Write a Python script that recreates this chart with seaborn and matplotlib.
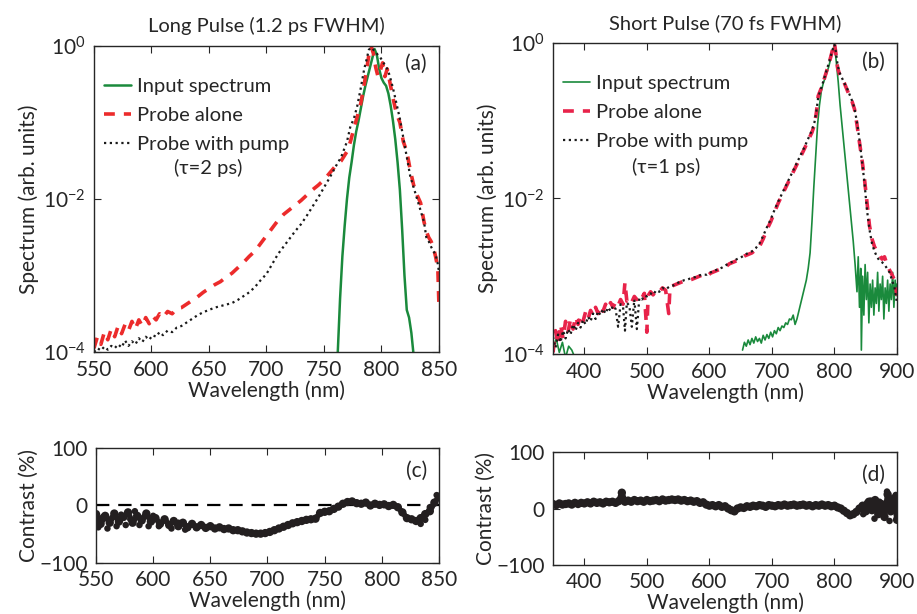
import numpy as np
import pandas as pd
import matplotlib
matplotlib.use("Agg")
import matplotlib.pyplot as plt
import seaborn as sns
from matplotlib.ticker import NullLocator

# ---------------- data ----------------
# Panel (a): long pulse, log10 of spectrum
wl_probe_a = [550, 553, 556, 559, 562, 565, 568, 571, 574, 577, 580, 583, 586, 589, 592, 595, 598, 601,
              604, 607, 610, 614, 618, 622, 626, 630, 635, 640, 645, 650, 655, 660, 665, 670, 675, 680,
              685, 690, 695, 700, 705, 710, 715, 720, 725, 730, 735, 740, 745, 750, 755, 760, 765, 770,
              773, 776, 779, 782, 785, 787, 789, 791, 793, 795, 797, 799, 801, 803, 805, 807, 810, 813,
              816, 819, 822, 825, 828, 831, 834, 837, 839, 841, 843, 845, 847, 849, 850]
log_probe_a = [-3.95, -3.80, -3.90, -3.74, -3.84, -3.70, -3.80, -3.66, -3.76, -3.64, -3.72, -3.60, -3.70,
               -3.58, -3.66, -3.55, -3.63, -3.53, -3.58, -3.50, -3.55, -3.47, -3.50, -3.43, -3.42, -3.38,
               -3.33, -3.28, -3.22, -3.17, -3.12, -3.08, -3.02, -2.97, -2.90, -2.83, -2.75, -2.68, -2.58,
               -2.48, -2.38, -2.28, -2.20, -2.14, -2.08, -2.02, -1.95, -1.88, -1.82, -1.75, -1.66, -1.57,
               -1.50, -1.38, -1.25, -1.08, -0.92, -0.75, -0.50, -0.32, -0.12, 0.0, -0.10, -0.28, -0.40,
               -0.32, -0.22, -0.40, -0.30, -0.45, -0.68, -0.88, -1.00, -1.25, -1.38, -1.62, -1.82, -1.95,
               -2.05, -2.30, -2.42, -2.50, -2.55, -2.62, -2.75, -2.90, -3.40]
log_pump_a = [-4.00, -3.95, -3.98, -3.93, -3.97, -3.92, -3.95, -3.90, -3.94, -3.85, -3.92, -3.86, -3.90,
              -3.82, -3.87, -3.80, -3.84, -3.78, -3.80, -3.74, -3.78, -3.72, -3.74, -3.68, -3.66, -3.62,
              -3.57, -3.52, -3.48, -3.45, -3.42, -3.40, -3.38, -3.36, -3.32, -3.27, -3.22, -3.15, -3.06,
              -2.98, -2.85, -2.72, -2.62, -2.52, -2.42, -2.33, -2.22, -2.10, -1.98, -1.85, -1.72, -1.58,
              -1.45, -1.25, -1.05, -0.95, -0.78, -0.55, -0.30, -0.18, -0.05, -0.02, -0.05, -0.08, -0.12,
              -0.15, -0.20, -0.25, -0.30, -0.38, -0.55, -0.75, -0.95, -1.20, -1.45, -1.70, -1.85, -2.00,
              -2.15, -2.30, -2.50, -2.55, -2.62, -2.68, -2.72, -2.85, -2.95]
wl_input_a = [762, 764, 766, 768, 770, 772, 774, 776, 778, 780, 782, 784, 786, 788, 790, 792, 794, 796,
              798, 800, 802, 804, 806, 808, 810, 812, 814, 816, 818, 820, 822, 824, 826, 828]
log_input_a = [-4.0, -3.3, -2.75, -2.35, -2.0, -1.72, -1.52, -1.30, -1.12, -0.98, -0.82, -0.66, -0.52,
               -0.40, -0.28, -0.16, -0.04, -0.12, -0.30, -0.42, -0.48, -0.52, -0.62, -0.78, -0.98, -1.22,
               -1.52, -1.88, -2.40, -3.00, -3.45, -3.55, -3.75, -4.05]

# Panel (b): short pulse, log10 of spectrum
wl_probe_b = [350, 354, 358, 362, 366, 370, 374, 378, 382, 386, 390, 394, 398, 402, 406, 410, 414, 418,
              422, 426, 430, 434, 438, 442, 446, 450, 454, 458, 462, 465, 468, 472, 476, 480, 484, 488,
              492, 496, 500, 502, 506, 510, 515, 520, 525, 530, 535, 537, 542, 548, 554, 560, 566, 572,
              578, 584, 590, 596, 602, 608, 614, 620, 626, 632, 638, 644, 650, 656, 662, 668, 674, 680,
              686, 692, 698, 704, 710, 716, 722, 728, 734, 740, 746, 752, 758, 764, 768, 771, 774, 777,
              780, 783, 786, 789, 792, 795, 798, 800, 802, 805, 808, 812, 816, 820, 824, 828, 832, 836,
              840, 844, 848, 852, 856, 860, 864, 868, 872, 876, 880, 884, 888, 892, 896, 900]
log_probe_b = [-3.98, -3.70, -3.88, -3.62, -3.80, -3.58, -3.72, -3.55, -3.68, -3.52, -3.62, -3.50, -3.58,
               -3.46, -3.55, -3.44, -3.50, -3.40, -3.48, -3.38, -3.45, -3.36, -3.42, -3.34, -3.40, -3.33,
               -3.38, -3.30, -3.36, -3.08, -3.32, -3.28, -3.33, -3.26, -3.30, -3.24, -3.28, -3.22, -3.72,
               -3.25, -3.20, -3.24, -3.18, -3.20, -3.15, -3.18, -3.48, -3.14, -3.12, -3.10, -3.08, -3.06,
               -3.05, -3.04, -3.02, -3.00, -2.98, -3.00, -2.96, -2.94, -2.92, -2.90, -2.88, -2.84, -2.82,
               -2.80, -2.77, -2.74, -2.72, -2.70, -2.66, -2.62, -2.52, -2.40, -2.30, -2.18, -2.06, -1.96,
               -1.86, -1.76, -1.66, -1.56, -1.46, -1.36, -1.25, -1.15, -1.05, -0.90, -0.68, -0.62, -0.56,
               -0.48, -0.40, -0.32, -0.24, -0.15, -0.05, 0.0, -0.12, -0.32, -0.40, -0.46, -0.52, -0.60,
               -0.68, -0.75, -0.85, -1.05, -1.28, -1.50, -1.75, -2.05, -2.35, -2.52, -2.62, -2.68, -2.72,
               -2.78, -2.75, -2.85, -2.92, -2.98, -3.05, -3.25]
log_pump_b = [-3.78, -3.92, -3.75, -3.85, -3.70, -3.80, -3.68, -3.75, -3.62, -3.70, -3.60, -3.66, -3.56,
              -3.62, -3.52, -3.58, -3.48, -3.55, -3.45, -3.50, -3.42, -3.48, -3.40, -3.45, -3.38, -3.42,
              -3.65, -3.36, -3.40, -3.70, -3.34, -3.38, -3.65, -3.30, -3.68, -3.28, -3.30, -3.25, -3.26,
              -3.24, -3.22, -3.24, -3.18, -3.20, -3.15, -3.17, -3.14, -3.13, -3.12, -3.09, -3.07, -3.05,
              -3.04, -3.02, -3.01, -2.99, -2.98, -2.98, -2.95, -2.93, -2.91, -2.89, -2.86, -2.83, -2.81,
              -2.78, -2.76, -2.73, -2.70, -2.68, -2.64, -2.58, -2.48, -2.37, -2.27, -2.15, -2.04, -1.94,
              -1.84, -1.74, -1.64, -1.54, -1.44, -1.34, -1.23, -1.12, -1.02, -0.88, -0.70, -0.62, -0.55,
              -0.47, -0.39, -0.31, -0.23, -0.14, -0.06, -0.02, -0.10, -0.28, -0.38, -0.45, -0.52, -0.58,
              -0.66, -0.74, -0.84, -1.02, -1.25, -1.52, -1.80, -2.15, -2.40, -2.58, -2.68, -2.75, -2.80,
              -2.82, -2.85, -2.90, -2.95, -3.05, -3.15, -3.35]
wl_input_b_blue = [350, 355, 360, 365, 370, 375, 380, 385]
log_input_b_blue = [-3.95, -3.80, -3.98, -3.85, -4.05, -3.90, -3.95, -4.05]
wl_input_b = [653, 656, 659, 662, 665, 668, 671, 674, 677, 680, 683, 686, 689, 692, 695, 698, 701, 704,
              707, 710, 713, 716, 719, 722, 725, 728, 731, 734, 737, 740, 743, 746, 749, 752, 755, 758,
              761, 764, 767, 770, 773, 776, 779, 782, 785, 788, 791, 794, 797, 800, 803, 806, 809, 812,
              815, 818, 821, 824, 827, 830, 833, 836, 838, 840, 842, 843, 845, 847, 849, 851, 853, 855,
              857, 859, 861, 863, 865, 867, 869, 871, 873, 875, 877, 879, 881, 883, 885, 887, 889, 891,
              893, 895, 897, 899, 900]
log_input_b = [-3.95, -3.85, -3.90, -3.82, -3.88, -3.80, -3.86, -3.78, -3.84, -3.80, -3.86, -3.76, -3.82,
               -3.75, -3.80, -3.72, -3.78, -3.70, -3.74, -3.66, -3.70, -3.64, -3.66, -3.60, -3.62, -3.55,
               -3.56, -3.50, -3.62, -3.55, -3.45, -3.35, -3.25, -3.15, -3.05, -2.90, -2.70, -2.30, -1.85,
               -1.45, -1.05, -0.80, -0.62, -0.52, -0.45, -0.38, -0.30, -0.20, -0.10, -0.02, -0.25, -0.50,
               -0.80, -1.05, -1.30, -1.55, -1.80, -2.05, -2.30, -2.55, -2.85, -3.20, -2.75, -3.40, -2.90,
               -3.95, -3.00, -3.50, -2.85, -3.30, -2.95, -3.60, -3.10, -3.40, -3.05, -3.50, -3.15, -3.35,
               -2.95, -3.45, -3.10, -3.30, -3.00, -3.55, -3.15, -3.35, -3.05, -3.45, -3.10, -3.30, -2.95,
               -3.40, -3.05, -3.25, -3.10]

# Panel (c): contrast, long pulse (%)
wl_contrast_c = [550, 554, 558, 562, 566, 570, 574, 578, 582, 586, 590, 594, 598, 602, 606, 610, 614, 618,
                 622, 626, 630, 634, 638, 642, 646, 650, 654, 658, 662, 666, 670, 674, 678, 682, 686, 690,
                 694, 698, 702, 706, 710, 714, 718, 722, 726, 730, 734, 738, 742, 746, 750, 754, 758, 762,
                 766, 770, 774, 778, 782, 786, 790, 794, 798, 802, 806, 810, 814, 818, 822, 826, 830, 834,
                 838, 842, 846, 850]
contrast_c = [-15, -32, -18, -30, -14, -28, -20, -12, -30, -18, -26, -14, -28, -22, -32, -24, -34, -27,
              -36, -30, -38, -32, -38, -34, -39, -36, -40, -38, -41, -40, -43, -43, -45, -47, -48, -49,
              -49, -48, -46, -43, -40, -37, -34, -31, -29, -27, -25, -24, -23, -13, -11, -10, -6, -2,
              3, 6, 7, 4, 3, 5, 0, 3, 1, 2, -1, 1, -3, -12, -22, -24, -27, -22, -15, -10, 5, 15]
# scattered outliers around the band on the noisy blue side of (c)
wl_spread_c = [552, 556, 560, 564, 568, 572, 576, 580, 584, 588, 592, 596, 600, 605, 610, 616, 622, 628,
               834, 838, 842, 848]
spread_c = [-38, -20, -40, -22, -36, -16, -34, -24, -10, -34, -20, -36, -18, -36, -26, -40, -30, -42,
            -32, -25, -3, 18]

# Panel (d): contrast, short pulse (%)
wl_contrast_d = [350, 355, 360, 365, 370, 375, 380, 385, 390, 395, 400, 405, 410, 415, 420, 425, 430, 435,
                 440, 445, 450, 455, 460, 465, 470, 475, 480, 485, 490, 495, 500, 505, 510, 515, 520, 525,
                 530, 535, 540, 545, 550, 555, 560, 565, 570, 575, 580, 585, 590, 595, 600, 605, 610, 615,
                 620, 625, 630, 635, 640, 645, 650, 655, 660, 665, 670, 675, 680, 685, 690, 695, 700, 705,
                 710, 715, 720, 725, 730, 735, 740, 745, 750, 755, 760, 765, 770, 775, 780, 785, 790, 795,
                 800, 805, 810, 815, 820, 825, 830, 835, 840, 845, 850, 855, 860, 865, 870, 875, 880, 885,
                 890, 895, 900]
contrast_d = [8, 6, 9, 7, 8, 9, 7, 10, 8, 10, 9, 11, 9, 12, 10, 11, 9, 12, 11, 12, 10, 13, 28, 12, 14, 12,
              15, 13, 14, 12, 15, 13, 14, 15, 13, 16, 14, 15, 16, 15, 16, 14, 15, 13, 14, 12, 13, 10, 11,
              7, 5, 6, 4, 6, 3, 4, 0, -3, -5, 0, 2, 1, 4, 3, 5, 4, 6, 5, 3, 6, 5, 4, 6, 5, 7, 5, 6, 7, 5,
              6, 7, 5, 6, 4, 6, 5, 7, 5, 6, 4, 5, 2, 0, -4, -8, -12, -10, -6, 0, 5, -5, 12, -3, 15, -10, 8,
              -15, 25, -5, 18, -20]
wl_spread_d = [846, 852, 858, 864, 872, 878, 884, 888, 894, 898]
spread_d = [-10, 10, 14, -18, 12, -8, 30, -22, 6, 24]

titles = ["Long Pulse (1.2 ps FWHM)", "Short Pulse (70 fs FWHM)"]
tau_labels = ["(\u03c4=2 ps)", "(\u03c4=1 ps)"]

GREEN = "#1a8a3c"
RED_A = "#ec2b2b"
RED_B = "#e8234a"
DOT = "#1a1a1a"
MARK = "#231f20"

# ---------------- style ----------------
sns.set_style("ticks")
plt.rcParams["font.family"] = ["Lato", "DejaVu Sans"]
plt.rcParams["mathtext.default"] = "regular"
plt.rcParams["axes.linewidth"] = 1.0

fig = plt.figure(figsize=(9.17, 6.14), dpi=100)
ax_a = fig.add_axes([0.1025, 0.4267, 0.3762, 0.4984])
ax_b = fig.add_axes([0.6031, 0.4235, 0.3751, 0.5065])
ax_c = fig.add_axes([0.1047, 0.0831, 0.3740, 0.1873])
ax_d = fig.add_axes([0.6031, 0.0798, 0.3751, 0.1840])


def spectrum_panel(ax, wl_in, log_in, wl_pr, log_pr, log_pu, red, green_lw, title, tag, tau,
                   xlim, xticks, extra=None):
    sns.lineplot(x=wl_in, y=10 ** np.array(log_in), ax=ax, color=GREEN, lw=green_lw,
                 estimator=None, label="Input spectrum")
    if extra is not None:
        sns.lineplot(x=extra[0], y=10 ** np.array(extra[1]), ax=ax, color=GREEN, lw=green_lw,
                     estimator=None, legend=False)
    sns.lineplot(x=wl_pr, y=10 ** np.array(log_pr), ax=ax, color=red, lw=2.6,
                 linestyle=(0, (3, 2.5)), estimator=None, label="Probe alone")
    sns.lineplot(x=wl_pr, y=10 ** np.array(log_pu), ax=ax, color=DOT, lw=1.6,
                 linestyle=(0, (1, 1.6)), estimator=None, label="Probe with pump")
    ax.set_yscale("log")
    ax.set_ylim(1e-4, 1)
    ax.set_xlim(*xlim)
    ax.set_xticks(xticks)
    ax.set_yticks([1e-4, 1e-2, 1])
    ax.set_yticklabels([r"$10^{-4}$", r"$10^{-2}$", r"$10^{0}$"])
    ax.yaxis.set_minor_locator(NullLocator())
    ax.tick_params(which="both", direction="in", top=True, right=True, length=5, labelsize=15)
    ax.tick_params(axis="y", pad=6)
    ax.tick_params(axis="x", pad=6)
    ax.set_xlabel("Wavelength (nm)", fontsize=15, labelpad=0)
    ax.set_ylabel("Spectrum (arb. units)", fontsize=15, labelpad=3)
    ax.set_title(title, fontsize=14.5, pad=10)
    ax.text(0.965, 0.94, tag, transform=ax.transAxes, ha="right", va="center", fontsize=15)
    ax.legend(loc="upper left", bbox_to_anchor=(-0.005, 0.935), frameon=False, fontsize=14.5,
              handlelength=1.3, handletextpad=0.3, labelspacing=0.58, borderaxespad=0.2)
    ax.text(0.33, 0.6, tau, transform=ax.transAxes, ha="center", va="center", fontsize=14.5)


def contrast_panel(ax, wl, vals, wl_sp, sp, tag, xlim, xticks, zero_line):
    if zero_line:
        ax.axhline(0, color="black", lw=1.6, linestyle=(0, (6, 4)), zorder=1)
    sns.lineplot(x=wl, y=vals, ax=ax, color=MARK, lw=4.0, estimator=None, zorder=2)
    sns.scatterplot(x=wl, y=vals, ax=ax, color=MARK, s=36, marker="o", edgecolor="none", zorder=2)
    sns.scatterplot(x=wl_sp, y=sp, ax=ax, color=MARK, s=22, marker="o", edgecolor="none", zorder=2)
    ax.set_xlim(*xlim)
    ax.set_xticks(xticks)
    ax.set_ylim(-100, 100)
    ax.set_yticks([-100, 0, 100])
    ax.tick_params(direction="in", top=True, right=True, length=5, labelsize=15)
    ax.tick_params(axis="y", pad=6)
    ax.tick_params(axis="x", pad=5)
    ax.set_xlabel("Wavelength (nm)", fontsize=15, labelpad=0)
    ax.set_ylabel("Contrast (%)", fontsize=15, labelpad=0)
    ax.text(0.965, 0.8, tag, transform=ax.transAxes, ha="right", va="center", fontsize=15)


spectrum_panel(ax_a, wl_input_a, log_input_a, wl_probe_a, log_probe_a, log_pump_a, RED_A, 1.8,
               titles[0], "(a)", tau_labels[0], (550, 850), [550, 600, 650, 700, 750, 800, 850])
spectrum_panel(ax_b, wl_input_b, log_input_b, wl_probe_b, log_probe_b, log_pump_b, RED_B, 1.2,
               titles[1], "(b)", tau_labels[1], (350, 900), [400, 500, 600, 700, 800, 900],
               extra=(wl_input_b_blue, log_input_b_blue))
contrast_panel(ax_c, wl_contrast_c, contrast_c, wl_spread_c, spread_c, "(c)", (550, 850),
               [550, 600, 650, 700, 750, 800, 850], True)
contrast_panel(ax_d, wl_contrast_d, contrast_d, wl_spread_d, spread_d, "(d)", (350, 900),
               [400, 500, 600, 700, 800, 900], False)

fig.savefig("out.png", dpi=100)
plt.close(fig)
